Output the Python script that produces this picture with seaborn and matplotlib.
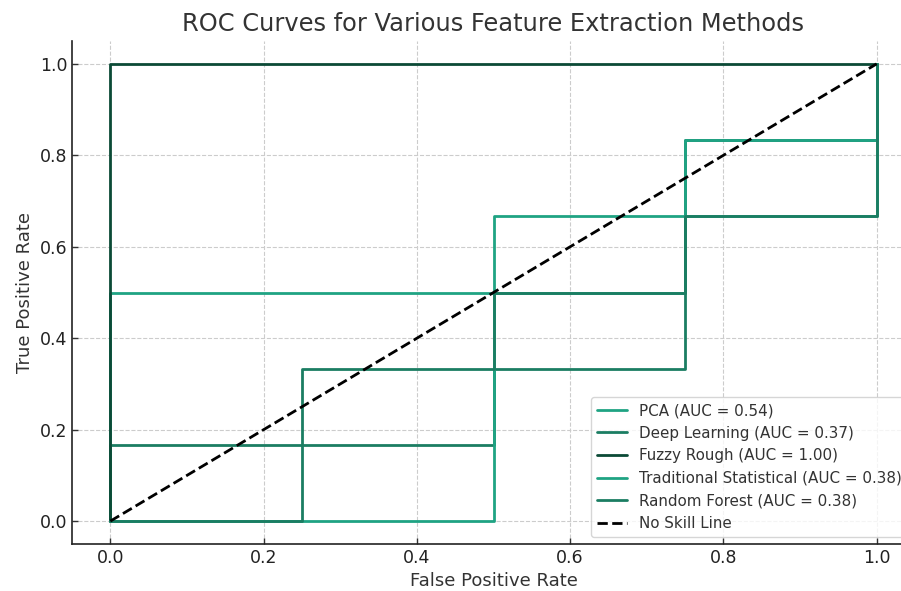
import matplotlib
matplotlib.use("Agg")
import matplotlib.pyplot as plt
import seaborn as sns
import pandas as pd

sns.set_theme(style="whitegrid")
plt.rcParams['font.family'] = ['DejaVu Sans']

methods = ["PCA", "Deep Learning", "Fuzzy Rough", "Traditional Statistical", "Random Forest"]
auc_labels = ["0.54", "0.37", "1.00", "0.38", "0.38"]
fpr_pca = [0.0, 0.0, 0.75, 0.75, 1.0, 1.0]
tpr_pca = [0.0, 0.5, 0.5, 0.6667, 0.6667, 1.0]
fpr_dl = [0.0, 0.0, 0.5, 0.5, 0.75, 0.75, 1.0, 1.0]
tpr_dl = [0.0, 0.1667, 0.1667, 0.3333, 0.3333, 0.8333, 0.8333, 1.0]
fpr_fr = [0.0, 0.0, 1.0]
tpr_fr = [0.0, 1.0, 1.0]
fpr_ts = [0.0, 0.5, 0.5, 0.75, 0.75, 1.0, 1.0]
tpr_ts = [0.0, 0.0, 0.6667, 0.6667, 0.8333, 0.8333, 1.0]
fpr_rf = [0.0, 0.25, 0.25, 0.5, 0.5, 0.75, 0.75, 1.0, 1.0]
tpr_rf = [0.0, 0.0, 0.3333, 0.3333, 0.5, 0.5, 0.6667, 0.6667, 1.0]
colors = ["#1fa383", "#1b7d62", "#0b4a36", "#1fa383", "#1b7d62"]

fprs = [fpr_pca, fpr_dl, fpr_fr, fpr_ts, fpr_rf]
tprs = [tpr_pca, tpr_dl, tpr_fr, tpr_ts, tpr_rf]

fig = plt.figure(figsize=(9.01, 5.91), dpi=100)
ax = fig.add_axes([72/901, 47/591, (915-72)/901, (544-41)/591])

for m, a, f, t, c in zip(methods, auc_labels, fprs, tprs, colors):
    df = pd.DataFrame({"fpr": f, "tpr": t})
    sns.lineplot(data=df, x="fpr", y="tpr", sort=False, estimator=None,
                 color=c, linewidth=2, ax=ax, label=f"{m} (AUC = {a})")

diag = pd.DataFrame({"x": [0, 1], "y": [0, 1]})
sns.lineplot(data=diag, x="x", y="y", color="black", linestyle="--",
             linewidth=2, ax=ax, label="No Skill Line")

ax.set_xlim(-0.05, 1.05)
ax.set_ylim(-0.05, 1.05)
ax.set_xticks([0, 0.2, 0.4, 0.6, 0.8, 1.0])
ax.set_yticks([0, 0.2, 0.4, 0.6, 0.8, 1.0])
ax.set_xlabel("False Positive Rate", fontsize=13, color="#333333")
ax.set_ylabel("True Positive Rate", fontsize=13, color="#333333")
ax.set_title("ROC Curves for Various Feature Extraction Methods", fontsize=17.4,
             color="#333333", pad=7)
ax.tick_params(axis="both", labelsize=12.5, labelcolor="#222222", direction="in",
               length=4, width=1, color="#333333", left=True, bottom=True)
ax.grid(True, linestyle="--", color="#cccccc", linewidth=0.8)
for s in ["top", "right"]:
    ax.spines[s].set_visible(False)
for s in ["left", "bottom"]:
    ax.spines[s].set_visible(True)
    ax.spines[s].set_color("#222222")
    ax.spines[s].set_linewidth(1.2)
ax.set_facecolor("white")

leg = ax.legend(loc="lower left", bbox_to_anchor=(591/901, 54/591),
                bbox_transform=fig.transFigure, fontsize=10.9, frameon=True,
                labelcolor="#333333", handlelength=2.0, borderaxespad=0)
leg.get_frame().set_edgecolor("#cccccc")

fig.savefig("out.png", dpi=100)
